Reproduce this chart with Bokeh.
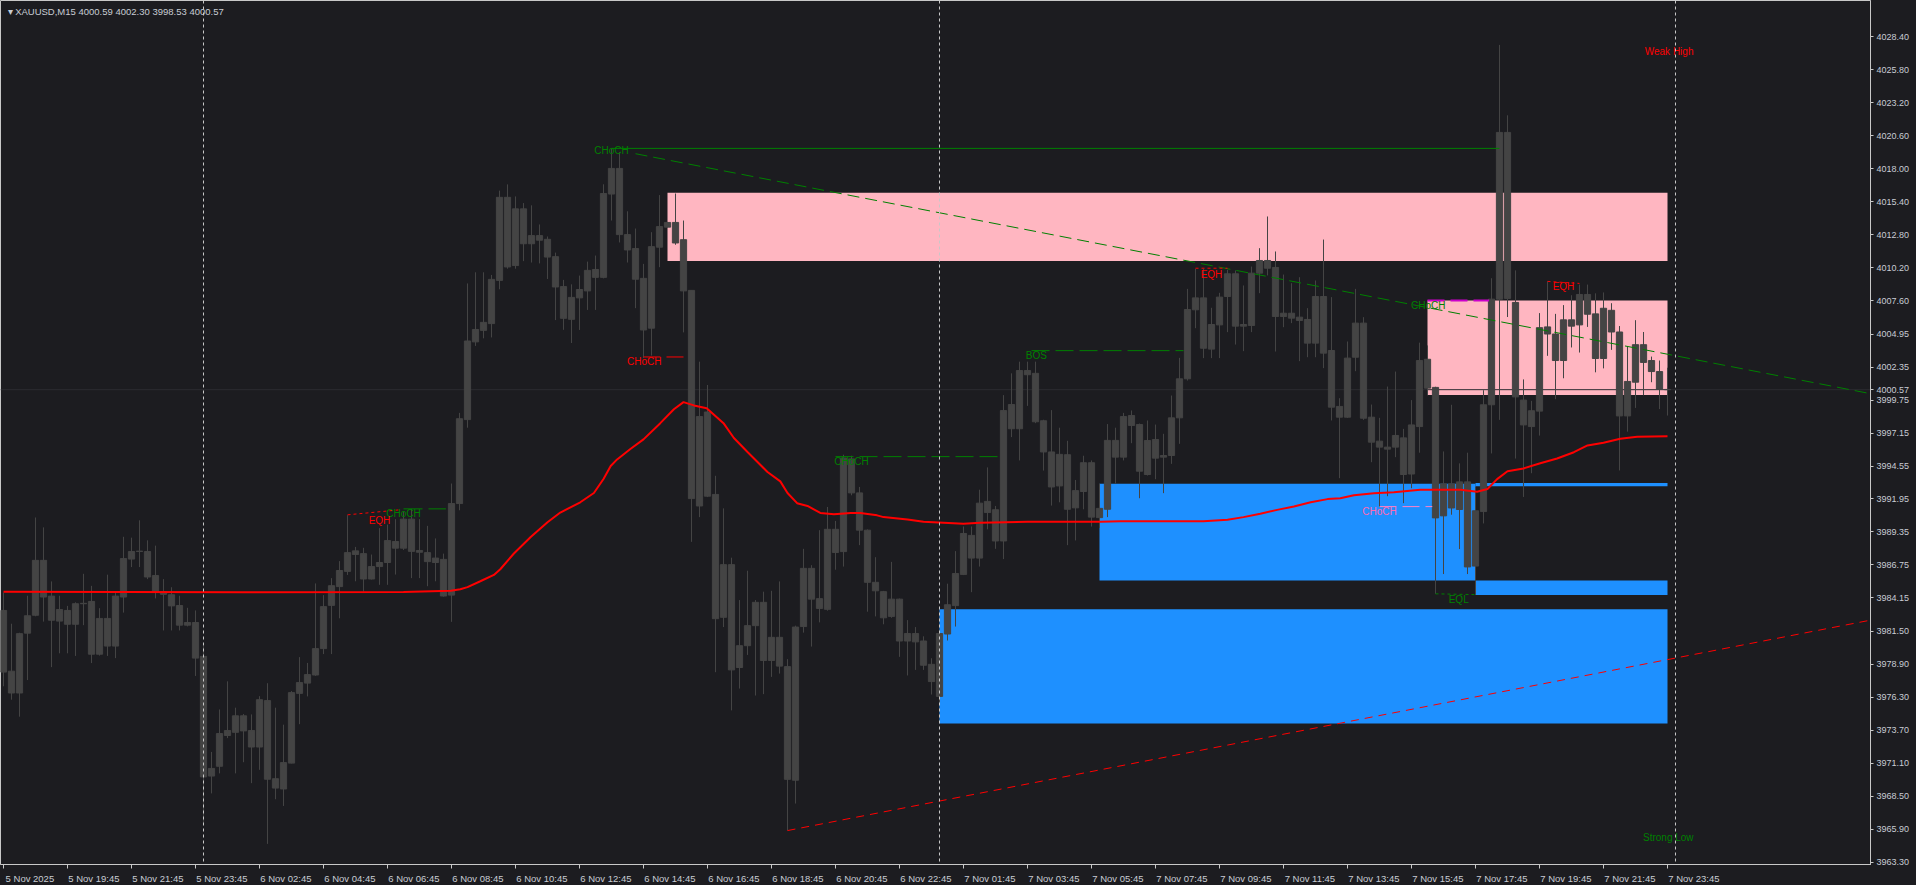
from bokeh.plotting import figure
from bokeh.models import (ColumnDataSource, FixedTicker, NumeralTickFormatter, CustomJSTickFormatter,
                          Span, Label, GlobalInlineStyleSheet)
from bokeh.core.properties import value
from bokeh.embed import file_html
from bokeh.resources import INLINE

# ---------------- data ----------------
symbol = "XAUUSD"
timeframe = "M15"

opens = [3983.16, 3978.37, 3976.65, 3981.37, 3982.78, 3987.11, 3984.29, 3982.32, 3983.16, 3982.07,
         3983.69, 3983.87, 3979.71, 3982.53, 3980.35, 3984.22, 3987.21, 3987.81, 3987.81, 3985.91,
         3984.64, 3984.40, 3983.55, 3982.00, 3982.21, 3979.54, 3970.10, 3970.87, 3973.30, 3973.55,
         3974.85, 3973.69, 3972.39, 3976.05, 3969.89, 3969.08, 3971.12, 3976.62, 3977.43, 3978.07,
         3980.15, 3983.56, 3985.04, 3986.24, 3987.57, 3987.64, 3985.64, 3986.62, 3986.94, 3988.60,
         3988.07, 3990.36, 3987.89, 3987.72, 3987.29, 3987.19, 3984.37, 3991.59, 3998.21, 4004.34,
         4005.25, 4005.78, 4009.19, 4015.74, 4010.36, 4014.83, 4012.08, 4012.72, 4012.43, 4011.06,
         4008.70, 4006.12, 4007.81, 4008.36, 4009.43, 4009.43, 4016.00, 4018.02, 4012.80, 4011.70,
         4009.35, 4005.42, 4011.81, 4013.39, 4013.76, 4012.40, 4008.40, 3991.40, 3998.81, 3992.31,
         3982.62, 3986.77, 3978.66, 3980.38, 3981.96, 3983.80, 3979.21, 3981.04, 3978.73, 3969.77,
         3981.89, 3986.48, 3984.09, 3983.25, 3989.56, 3987.80, 3995.11, 3992.43, 3989.49, 3985.38,
         3984.64, 3982.69, 3984.05, 3980.75, 3981.34, 3980.75, 3978.91, 3976.38, 3981.30, 3983.54,
         3986.00, 3989.08, 3987.29, 3990.88, 3991.10, 3988.64, 3999.40, 3997.49, 4002.08, 4001.86,
         3998.12, 3995.66, 3992.98, 3995.44, 3991.25, 3992.54, 3994.81, 3990.48, 3991.14, 3996.57,
         3995.25, 3998.53, 3997.82, 3993.88, 3996.64, 3995.25, 3995.38, 3998.35, 4001.43, 4006.87,
         4007.81, 4003.77, 4005.68, 4007.92, 4009.71, 4005.58, 4005.63, 4009.76, 4010.76, 4010.21,
         4006.34, 4006.60, 4006.29, 4006.11, 4004.24, 4007.92, 4003.66, 3999.25, 3998.40, 4003.13,
         4005.82, 3998.40, 3996.51, 3996.04, 3996.04, 3996.77, 3993.92, 3997.66, 4002.97, 4000.75,
         3990.62, 3993.14, 3991.12, 3993.30, 3986.66, 3990.96, 3999.38, 4007.71, 4020.86, 4007.45,
         3999.75, 3997.66, 3998.88, 4005.52, 4004.96, 4002.87, 4006.08, 4005.68, 4008.08, 4006.55,
         4003.03, 4006.83, 4005.12, 3998.50, 4001.16, 4004.12, 4002.87, 4002.00, 4000.59]

highs = [3984.57, 3982.11, 3981.40, 3984.32, 3990.49, 3989.71, 3985.45, 3984.32, 3983.52, 3983.80,
         3986.05, 3985.10, 3983.34, 3985.98, 3984.57, 3988.97, 3988.90, 3990.27, 3988.69, 3988.27,
         3985.63, 3984.99, 3984.32, 3983.37, 3983.16, 3980.35, 3972.00, 3975.35, 3977.57, 3975.49,
         3974.99, 3974.96, 3976.40, 3977.42, 3975.49, 3974.15, 3976.80, 3979.48, 3979.02, 3985.29,
         3984.37, 3985.71, 3987.05, 3990.67, 3988.17, 3988.10, 3987.57, 3989.65, 3989.93, 3990.36,
         3990.99, 3991.17, 3990.36, 3989.83, 3988.84, 3987.64, 3993.17, 3998.74, 4008.95, 4009.83,
         4009.83, 4009.62, 4016.27, 4016.76, 4015.81, 4015.29, 4015.11, 4013.60, 4012.65, 4011.38,
         4009.23, 4008.88, 4009.57, 4010.67, 4011.15, 4016.77, 4019.60, 4019.30, 4014.64, 4013.28,
         4010.49, 4012.99, 4015.92, 4013.80, 4016.04, 4013.91, 4008.40, 4002.78, 4000.94, 3993.78,
         3991.21, 3987.32, 3983.98, 3986.29, 3983.98, 3984.64, 3984.71, 3985.45, 3979.32, 3981.96,
         3988.02, 3986.73, 3989.49, 3991.32, 3990.22, 3995.44, 3995.36, 3992.90, 3989.55, 3987.36,
         3984.70, 3986.99, 3984.10, 3982.40, 3981.85, 3981.12, 3979.39, 3981.59, 3985.27, 3987.84,
         3989.78, 3989.78, 3992.68, 3994.44, 3991.40, 4000.14, 4001.86, 4002.78, 4002.78, 4002.78,
         3998.20, 3998.96, 3997.57, 3996.54, 3993.45, 3995.36, 3994.99, 3993.16, 3997.86, 3997.57,
         3998.74, 3998.93, 3997.90, 3998.14, 3997.82, 3997.09, 4000.11, 4003.08, 4008.52, 4010.10,
         4010.10, 4007.03, 4008.21, 4010.02, 4009.97, 4008.79, 4010.28, 4011.73, 4014.23, 4011.47,
         4009.65, 4008.97, 4009.44, 4007.00, 4009.18, 4012.41, 4007.87, 3999.90, 4004.37, 4008.52,
         4006.29, 3999.40, 3998.35, 4000.82, 4002.00, 3997.48, 3999.75, 4004.28, 4004.06, 4000.80,
         3995.70, 3999.38, 3994.76, 3995.60, 3992.89, 4000.53, 4009.36, 4027.76, 4022.21, 4009.98,
         4001.38, 3999.69, 4006.61, 4009.11, 4006.55, 4007.24, 4008.02, 4008.86, 4008.86, 4008.17,
         4008.24, 4007.39, 4005.59, 4003.96, 4006.05, 4005.12, 4003.18, 4002.87, 4002.30]

lows = [3977.18, 3976.12, 3974.78, 3977.67, 3982.70, 3982.28, 3978.69, 3979.78, 3979.78, 3979.57,
        3982.00, 3979.01, 3979.60, 3979.57, 3979.40, 3982.99, 3986.58, 3986.58, 3985.63, 3984.11,
        3981.58, 3981.58, 3981.58, 3981.90, 3977.99, 3966.26, 3968.73, 3970.31, 3973.09, 3970.31,
        3971.19, 3969.54, 3970.59, 3964.75, 3968.27, 3967.74, 3971.10, 3974.19, 3976.38, 3978.00,
        3979.72, 3979.72, 3982.54, 3985.96, 3985.46, 3984.65, 3985.60, 3985.18, 3985.18, 3985.99,
        3987.93, 3985.71, 3985.71, 3985.07, 3985.46, 3984.25, 3982.26, 3991.06, 3997.57, 4004.02,
        4004.62, 4004.69, 4008.49, 4010.11, 4010.11, 4010.71, 4010.60, 4010.53, 4009.30, 4006.06,
        4005.29, 4004.25, 4005.28, 4006.86, 4006.86, 4009.35, 4013.91, 4012.18, 4010.60, 4007.00,
        4003.07, 4003.26, 4010.23, 4013.35, 4012.00, 4005.09, 3988.57, 3990.52, 3992.10, 3978.29,
        3981.85, 3975.28, 3977.00, 3979.65, 3976.45, 3976.56, 3977.92, 3978.18, 3965.80, 3967.93,
        3981.41, 3980.31, 3982.22, 3983.14, 3986.37, 3986.62, 3992.24, 3988.31, 3983.06, 3982.69,
        3982.07, 3982.58, 3979.50, 3978.03, 3978.47, 3978.47, 3976.53, 3975.90, 3980.79, 3981.89,
        3985.95, 3984.60, 3986.62, 3989.56, 3988.02, 3987.21, 3996.83, 3994.99, 3999.29, 3997.93,
        3994.19, 3991.43, 3991.69, 3988.31, 3988.68, 3991.14, 3989.78, 3989.67, 3990.52, 3993.16,
        3994.99, 3996.35, 3992.01, 3993.80, 3993.51, 3992.41, 3994.72, 3996.30, 4001.29, 4005.42,
        4003.06, 4003.06, 4003.06, 4005.11, 4004.13, 4003.61, 4005.11, 4008.18, 4009.58, 4003.58,
        4005.50, 4005.82, 4002.82, 4003.13, 4003.13, 4002.27, 3998.14, 3993.59, 3998.35, 4002.03,
        3998.19, 3994.85, 3991.31, 3992.17, 3995.25, 3991.62, 3992.80, 3995.60, 4000.13, 3984.47,
        3986.03, 3990.71, 3988.00, 3986.03, 3984.41, 3990.02, 3995.54, 3998.19, 4006.30, 3995.14,
        3992.11, 3993.98, 3996.95, 4003.24, 3999.82, 4001.47, 4003.90, 4003.50, 4005.52, 4001.94,
        4002.25, 4003.71, 3994.20, 3997.26, 3999.13, 4000.13, 4001.16, 3999.04, 3998.53]

closes = [3978.30, 3976.65, 3981.33, 3982.74, 3987.11, 3984.22, 3982.39, 3983.23, 3982.07, 3983.69,
          3983.72, 3979.71, 3982.53, 3980.35, 3984.29, 3987.25, 3987.81, 3987.84, 3985.80, 3984.64,
          3984.43, 3983.52, 3982.00, 3982.21, 3979.40, 3970.03, 3970.70, 3973.45, 3973.69, 3974.85,
          3973.66, 3972.39, 3976.12, 3969.85, 3969.15, 3971.16, 3976.68, 3977.47, 3978.10, 3980.15,
          3983.46, 3985.11, 3986.31, 3987.72, 3987.86, 3985.64, 3986.62, 3986.94, 3988.67, 3988.07,
          3990.36, 3987.82, 3987.75, 3987.01, 3986.94, 3984.30, 3991.59, 3998.28, 4004.41, 4005.32,
          4005.88, 4009.27, 4015.74, 4010.25, 4014.83, 4012.08, 4012.72, 4012.36, 4011.03, 4008.67,
          4006.20, 4007.85, 4008.47, 4009.98, 4010.05, 4016.04, 4018.02, 4012.80, 4011.59, 4009.28,
          4005.28, 4011.85, 4013.43, 4013.76, 4012.14, 4008.36, 3991.98, 3998.45, 3992.17, 3982.51,
          3986.77, 3978.47, 3980.38, 3981.96, 3983.80, 3979.21, 3981.04, 3978.77, 3969.84, 3981.85,
          3986.48, 3984.05, 3983.32, 3989.56, 3987.73, 3995.18, 3992.43, 3989.49, 3985.38, 3984.71,
          3982.58, 3984.05, 3980.75, 3981.34, 3980.68, 3978.84, 3977.55, 3981.34, 3983.61, 3986.07,
          3989.23, 3987.29, 3991.62, 3991.76, 3988.64, 3998.92, 3997.49, 4002.08, 4001.75, 3998.04,
          3995.66, 3992.90, 3995.47, 3991.14, 3992.61, 3994.81, 3990.52, 3991.21, 3996.57, 3995.25,
          3998.45, 3997.75, 3994.14, 3996.56, 3995.17, 3995.38, 3998.35, 4001.43, 4006.89, 4007.81,
          4003.84, 4005.71, 4007.87, 4009.71, 4005.58, 4005.71, 4009.76, 4010.76, 4010.15, 4006.34,
          4006.60, 4006.21, 4006.03, 4004.24, 4007.92, 4003.45, 3999.19, 3998.40, 4003.06, 4005.82,
          3998.32, 3996.43, 3996.04, 3995.88, 3996.96, 3993.88, 3997.79, 4002.87, 4000.69, 3990.46,
          3993.14, 3991.24, 3993.30, 3986.59, 3991.02, 3999.38, 4007.71, 4020.86, 4007.77, 4000.00,
          3997.79, 3998.91, 4005.46, 4004.96, 4002.87, 4006.08, 4005.58, 4008.08, 4006.52, 4003.03,
          4006.99, 4005.12, 3998.50, 4001.22, 4004.12, 4002.72, 4002.00, 4000.60, 4000.57]

# moving average (sampled along the curve)
ma_bars = [0, 30, 50, 55.9, 57.1, 58, 59.6, 61.3, 62.1, 63.8, 65.9, 68, 69.6, 72.1, 73.8, 75, 75.9, 76.7,
           78.4, 80, 82.1, 83.8, 85, 86.3, 87.9, 90, 91.3, 93, 95.5, 97.1, 98, 99.2, 100.5, 102.1, 103.8,
           105.9, 107.1, 109.2, 110, 113, 115, 120, 122.1, 128, 137.1, 139.6, 150, 153, 155, 157.1, 159.2,
           161.3, 163.4, 165.5, 167.1, 168.8, 171.3, 173.8, 177.1, 182.1, 184.2, 185.5, 186.7, 188, 190,
           192.1, 194.2, 196.3, 198, 200, 202.1, 204.2, 208]
ma_values = [3984.64, 3984.60, 3984.62, 3984.72, 3984.83, 3985.00, 3985.46, 3985.96, 3986.41, 3987.65,
             3988.95, 3990.11, 3990.88, 3991.69, 3992.42, 3993.53, 3994.55, 3995.07, 3995.91, 3996.65,
             3997.93, 3999.03, 3999.59, 3999.33, 3999.11, 3997.93, 3996.76, 3995.66, 3994.08, 3993.34,
             3992.42, 3991.62, 3991.40, 3990.85, 3990.74, 3990.85, 3990.85, 3990.66, 3990.52, 3990.33,
             3990.15, 3990.00, 3990.07, 3990.15, 3990.15, 3990.20, 3990.20, 3990.31, 3990.52, 3990.78,
             3991.09, 3991.36, 3991.70, 3991.94, 3992.01, 3992.25, 3992.41, 3992.49, 3992.68, 3992.68,
             3992.52, 3992.74, 3993.52, 3994.14, 3994.36, 3994.77, 3995.14, 3995.64, 3996.17, 3996.39,
             3996.70, 3996.85, 3996.89]

time_label_bars = [0, 8, 16, 24, 32, 40, 48, 56, 64, 72, 80, 88, 96, 104, 112, 120, 128, 136, 144,
                   152, 160, 168, 176, 184, 192, 200, 208]
time_labels = ["5 Nov 2025", "5 Nov 19:45", "5 Nov 21:45", "5 Nov 23:45", "6 Nov 02:45", "6 Nov 04:45",
               "6 Nov 06:45", "6 Nov 08:45", "6 Nov 10:45", "6 Nov 12:45", "6 Nov 14:45", "6 Nov 16:45",
               "6 Nov 18:45", "6 Nov 20:45", "6 Nov 22:45", "7 Nov 01:45", "7 Nov 03:45", "7 Nov 05:45",
               "7 Nov 07:45", "7 Nov 09:45", "7 Nov 11:45", "7 Nov 13:45", "7 Nov 15:45", "7 Nov 17:45",
               "7 Nov 19:45", "7 Nov 21:45", "7 Nov 23:45"]
day_start_bars = [25, 117, 209]

price_tick_labels = ["4028.40", "4025.80", "4023.20", "4020.60", "4018.00", "4015.40", "4012.80", "4010.20",
                     "4007.60", "4004.95", "4002.35", "3999.75", "3997.15", "3994.55", "3991.95", "3989.35",
                     "3986.75", "3984.15", "3981.50", "3978.90", "3976.30", "3973.70", "3971.10", "3968.50",
                     "3965.90", "3963.30"]

# supply (pink) and demand (blue) zones
supply_left = [83, 178]
supply_right = [208, 208]
supply_top = [4016.11, 4007.61]
supply_bottom = [4010.71, 4000.16]
demand_left = [117, 137, 184, 184]
demand_right = [208, 184, 208, 208]
demand_top = [3983.25, 3993.16, 3993.21, 3985.53]
demand_bottom = [3974.25, 3985.53, 3992.96, 3984.38]

# trend lines
bear_trend_bars = [79, 234]
bear_trend_prices = [4019.18, 4000.18]
bull_trend_bars = [98, 234]
bull_trend_prices = [3965.80, 3982.47]

# structure levels
swing_high_bars = [76, 187]
swing_high_prices = [4019.60, 4019.60]
bos_bars = [128.5, 147.5]
bos_prices = [4003.65, 4003.65]
choch_mid_bars = [104, 124.6]
choch_mid_prices = [3995.29, 3995.29]
choch_left_bars = [50, 55.3]
choch_left_prices = [3991.17, 3991.17]
choch_bear_bars = [80, 85.1]
choch_bear_prices = [4003.15, 4003.15]
choch_pink_bars = [172, 178.6]
choch_pink_prices = [3991.35, 3991.35]
choch_magenta_bars = [178, 185.7]
choch_magenta_prices = [4007.61, 4007.61]
eqh1_bars = [43, 49.6]
eqh1_prices = [3990.70, 3991.10]
eqh2_bars = [149, 153]
eqh2_prices = [4010.15, 4010.15]
eqh3_bars = [193, 197]
eqh3_prices = [4009.11, 4008.95]
eql_bars = [179, 184]
eql_prices = [3984.47, 3984.41]

# text labels
green_text = ["CHoCH", "CHoCH", "CHoCH", "BOS", "CHoCH", "EQL", "Strong Low"]
green_bars = [76, 50, 106, 129.1, 178.1, 181.9, 208.1]
green_prices = [4019.42, 3990.80, 3994.90, 4003.26, 4007.17, 3984.06, 3965.25]
red_text = ["CHoCH", "EQH", "EQH", "EQH", "Weak High"]
red_bars = [80.1, 47, 151, 195, 208.2]
red_prices = [4002.80, 3990.29, 4009.68, 4008.71, 4027.24]
pink_text = ["CHoCH"]
pink_bars = [172]
pink_prices = [3990.99]

assert len(opens) == len(highs) == len(lows) == len(closes) == 209
assert len(ma_bars) == len(ma_values)

# ---------------- styling ----------------
BG = "#1c1c20"
CANDLE = "#444444"
AXIS = "#c8c8c8"
TEXT = "#c8ccd4"
FONT = "Liberation Sans"
GREEN = "#008000"
RED = "#ff0000"
LABEL_SHIFT = 3.3   # time labels start at their tick (MT5 style)

FRAME_W, FRAME_H = 1870, 864
x_lo, x_hi = -0.375, 233.375
y_lo, y_hi = 3963.124, 4031.263

p = figure(frame_width=FRAME_W, frame_height=FRAME_H, x_range=(x_lo, x_hi), y_range=(y_lo, y_hi),
           y_axis_location="right", toolbar_location=None, output_backend="svg",
           background_fill_color=BG, border_fill_color=BG, outline_line_color=AXIS,
           min_border_left=0, min_border_top=0, min_border_right=46, min_border_bottom=21)
p.stylesheets = [GlobalInlineStyleSheet(css="html, body { background-color: %s; }" % BG)]
p.xgrid.visible = False
p.ygrid.visible = False

# zones
p.quad(left=supply_left, right=supply_right, top=supply_top, bottom=supply_bottom,
       fill_color="#ffb6c1", line_color=None)
p.quad(left=demand_left, right=demand_right, top=demand_top, bottom=demand_bottom,
       fill_color="#1e90ff", line_color=None)

# bid line
p.segment(x0=[x_lo], x1=[x_hi], y0=[closes[-1]], y1=[closes[-1]], line_color="#2c2c31", line_width=1)

# candles
bars = list(range(len(opens)))
src = ColumnDataSource(dict(
    x=bars, h=highs, l=lows,
    top=[max(o, c) for o, c in zip(opens, closes)],
    bottom=[min(o, c) for o, c in zip(opens, closes)],
))
p.segment(x0="x", y0="l", x1="x", y1="h", source=src, line_color=CANDLE, line_width=1)
p.vbar(x="x", width=0.78, top="top", bottom="bottom", source=src,
       fill_color=CANDLE, line_color=CANDLE, line_width=1)

# structure lines
p.line(swing_high_bars, swing_high_prices, line_color=GREEN, line_width=1)
p.line(bear_trend_bars, bear_trend_prices, line_color=GREEN, line_width=1, line_dash="12 6")
p.line(bull_trend_bars, bull_trend_prices, line_color=RED, line_width=1, line_dash="8 6")
p.line(bos_bars, bos_prices, line_color=GREEN, line_width=1, line_dash="18 6")
p.line(choch_mid_bars, choch_mid_prices, line_color=GREEN, line_width=1, line_dash="18 6")
p.line(choch_left_bars, choch_left_prices, line_color=GREEN, line_width=1, line_dash="19 6")
p.line(choch_bear_bars, choch_bear_prices, line_color=RED, line_width=1, line_dash="17 6")
p.line(choch_pink_bars, choch_pink_prices, line_color="#ff80c8", line_width=1, line_dash="17 6")
p.line(choch_magenta_bars, choch_magenta_prices, line_color="#cc00cc", line_width=2, line_dash="17 6")
for bx, py in ((eqh1_bars, eqh1_prices), (eqh2_bars, eqh2_prices), (eqh3_bars, eqh3_prices)):
    p.line(bx, py, line_color=RED, line_width=1, line_dash="3 3")
p.line(eql_bars, eql_prices, line_color=GREEN, line_width=1, line_dash="3 3")

# moving average
p.line(ma_bars, ma_values, line_color=RED, line_width=2)

# day separators
for b in day_start_bars:
    p.add_layout(Span(location=b, dimension="height", line_color=AXIS, line_width=1, line_dash="3 3"))

# text labels
for txt, bx, py, col in ((green_text, green_bars, green_prices, GREEN),
                         (red_text, red_bars, red_prices, RED),
                         (pink_text, pink_bars, pink_prices, "#ff69b4")):
    p.text(x=bx, y=py, text=txt, text_color=col, text_font=value(FONT), text_font_size="10px",
           text_align="center", text_baseline="middle")

# header
header = "\u25be %s,%s  %.2f %.2f %.2f %.2f" % (symbol, timeframe, opens[-1], highs[-1], lows[-1], closes[-1])
p.add_layout(Label(x=0.5, y=4030.42, text=header, text_font=FONT, text_font_size="9.5px",
                   text_color=TEXT, text_align="left", text_baseline="middle"))

# y axis (right), including the current price
yax = p.yaxis[0]
yax.ticker = FixedTicker(ticks=[float(s) for s in price_tick_labels] + [closes[-1]])
yax.formatter = NumeralTickFormatter(format="0.00")
yax.axis_line_color = AXIS
yax.major_tick_line_color = AXIS
yax.major_tick_out = 3
yax.major_tick_in = 0
yax.minor_tick_line_color = None
yax.major_label_text_color = TEXT
yax.major_label_text_font = FONT
yax.major_label_text_font_size = "9px"
yax.major_label_standoff = 3

# x axis: tick marks at the bars (minor ticks), labels starting at each tick
xax = p.xaxis[0]
xax.ticker = FixedTicker(ticks=[b + LABEL_SHIFT for b in time_label_bars], minor_ticks=time_label_bars)
xax.formatter = CustomJSTickFormatter(args=dict(labels=time_labels), code="return labels[index]")
xax.axis_line_color = AXIS
xax.major_tick_line_color = None
xax.major_tick_out = 0
xax.major_tick_in = 0
xax.minor_tick_line_color = AXIS
xax.minor_tick_out = 4
xax.minor_tick_in = 0
xax.major_label_text_color = TEXT
xax.major_label_text_font = FONT
xax.major_label_text_font_size = "9.5px"
xax.major_label_standoff = 4

open("out.html", "w").write(file_html(p, INLINE))
